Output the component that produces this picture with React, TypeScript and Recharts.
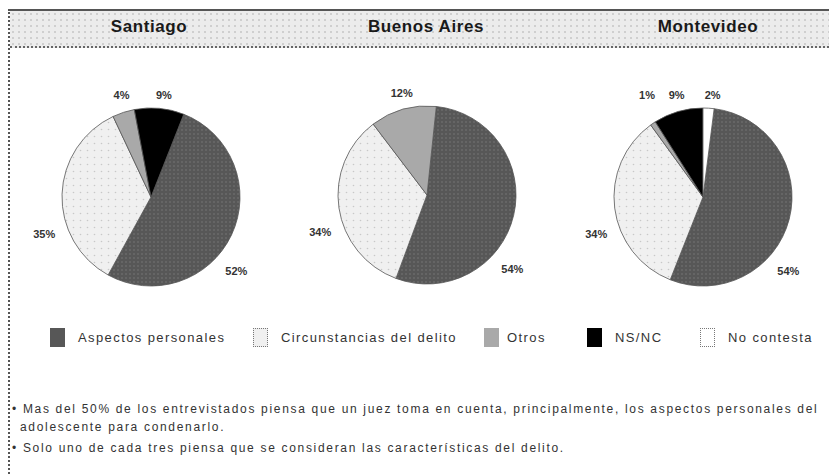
import React from 'react';
import { PieChart, Pie, Cell, Legend } from 'recharts';

const cities = ['Santiago', 'Buenos Aires', 'Montevideo'];
const categories = ['Aspectos personales', 'Circunstancias del delito', 'Otros', 'NS/NC', 'No contesta'];
const santiagoValues = [52, 35, 4, 9, 0];
const buenosAiresValues = [54, 34, 12, 0, 0];
const montevideoValues = [54, 34, 1, 9, 2];
const notes = [
  '• Mas del 50% de los entrevistados piensa que un juez toma en cuenta, principalmente, los aspectos personales del',
  'adolescente para condenarlo.',
  '• Solo uno de cada tres piensa que se consideran las características del delito.',
];

const fills = ['url(#darkDots)', 'url(#lightDots)', '#a9a9a9', '#000000', '#ffffff'];
const swatchBg = ['#575757', '#f0f0f0', '#a9a9a9', '#000000', '#ffffff'];
const font = '"Liberation Sans", Arial, sans-serif';

const W = 829;
const H = 475;
const R = 89;

// pie centres and start angles
const pieLayout = [
  { cx: 151, cy: 197, start: 68.4 },
  { cx: 427, cy: 195, start: 84 },
  { cx: 703, cy: 197, start: 82.8 },
];
const legendX = [50, 253, 484, 587, 700];

const seriesFor = (values: number[]) =>
  categories
    .map((name, i) => ({ name, value: values[i], idx: i }))
    .filter((d) => d.value > 0);

const RAD = Math.PI / 180;

function renderLabel(props: any) {
  const { cx, cy, midAngle, outerRadius, value } = props;
  if (!value) return null;
  let x: number;
  let y: number;
  if (value >= 20) {
    // big slices: label sits low on the left or right side of the pie
    const onRight = Math.cos(-midAngle * RAD) > 0;
    const a = (onRight ? 131 : 251) * RAD; // clockwise from 12 o'clock
    const r = outerRadius + 24;
    x = cx + r * Math.sin(a);
    y = cy - r * Math.cos(a);
  } else {
    const r = outerRadius + 16;
    x = cx + r * Math.cos(-midAngle * RAD) + 3;
    y = cy - outerRadius - 13;
  }
  return (
    <text
      x={x}
      y={y}
      textAnchor="middle"
      dominantBaseline="central"
      fontFamily={font}
      fontSize={11}
      fontWeight="bold"
      fill="#333"
    >
      {`${value}%`}
    </text>
  );
}

function LegendContent() {
  return (
    <div style={{ position: 'relative', width: W, height: 22 }}>
      {categories.map((c, i) => (
        <div
          key={c}
          style={{ position: 'absolute', left: legendX[i], top: 0, display: 'flex', alignItems: 'center' }}
        >
          <div
            style={{
              width: 15,
              height: 19,
              boxSizing: 'border-box',
              background: swatchBg[i],
              border: i === 1 || i === 4 ? '1px dotted #777' : 'none',
              marginRight: i === 2 ? 8 : 13,
            }}
          />
          <span style={{ fontFamily: font, fontSize: 13, letterSpacing: 1.4, color: '#333' }}>{c}</span>
        </div>
      ))}
    </div>
  );
}

export default function App() {
  const allValues = [santiagoValues, buenosAiresValues, montevideoValues];
  return (
    <div style={{ position: 'absolute', left: 0, top: 0, width: W, height: H, background: '#fff', overflow: 'hidden' }}>
      {/* frame + header band */}
      <div
        style={{
          position: 'absolute',
          left: 8,
          top: 9,
          width: W,
          height: H,
          borderLeft: '2px dotted #555',
          borderTop: '2px solid #555',
        }}
      />
      <div
        style={{
          position: 'absolute',
          left: 10,
          top: 11,
          width: W - 10,
          height: 35,
          backgroundColor: '#ececec',
          backgroundImage: 'radial-gradient(#cfcfcf 0.8px, transparent 1px)',
          backgroundSize: '6px 6px',
          borderBottom: '2px dotted #666',
        }}
      />
      {cities.map((c, i) => (
        <div
          key={c}
          style={{
            position: 'absolute',
            left: [149, 426, 708][i] - 80,
            width: 160,
            top: 17,
            textAlign: 'center',
            fontFamily: font,
            fontWeight: 'bold',
            fontSize: 17,
            letterSpacing: 0.6,
            color: '#1a1a1a',
          }}
        >
          {c}
        </div>
      ))}

      <div style={{ position: 'absolute', left: 0, top: 0 }}>
        <PieChart width={W} height={H} margin={{ top: 0, right: 0, bottom: 0, left: 0 }}>
          <defs>
            <pattern id="darkDots" width="4" height="4" patternUnits="userSpaceOnUse">
              <rect width="4" height="4" fill="#575757" />
              <circle cx="2" cy="2" r="0.8" fill="#777" />
            </pattern>
            <pattern id="lightDots" width="7" height="7" patternUnits="userSpaceOnUse">
              <rect width="7" height="7" fill="#f0f0f0" />
              <circle cx="3.5" cy="3.5" r="0.8" fill="#c8c8c8" />
            </pattern>
          </defs>
          {allValues.map((vals, p) => (
            <Pie
              key={cities[p]}
              data={seriesFor(vals)}
              dataKey="value"
              nameKey="name"
              cx={pieLayout[p].cx}
              cy={pieLayout[p].cy}
              outerRadius={R}
              startAngle={pieLayout[p].start}
              endAngle={pieLayout[p].start - 360}
              stroke="#555"
              strokeWidth={0.8}
              label={renderLabel}
              labelLine={false}
              isAnimationActive={false}
            >
              {seriesFor(vals).map((d) => (
                <Cell key={d.name} fill={fills[d.idx]} />
              ))}
            </Pie>
          ))}
          <Legend
            content={() => <LegendContent />}
            wrapperStyle={{ position: 'absolute', left: 0, top: 328, width: W }}
          />
        </PieChart>
      </div>

      <div
        style={{
          position: 'absolute',
          left: 12,
          top: 400,
          fontFamily: font,
          fontSize: 12,
          letterSpacing: 1.68,
          color: '#333',
          lineHeight: '18px',
          whiteSpace: 'nowrap',
        }}
      >
        <div>{notes[0]}</div>
        <div style={{ paddingLeft: 8 }}>{notes[1]}</div>
        <div style={{ marginTop: 3 }}>{notes[2]}</div>
      </div>
    </div>
  );
}
